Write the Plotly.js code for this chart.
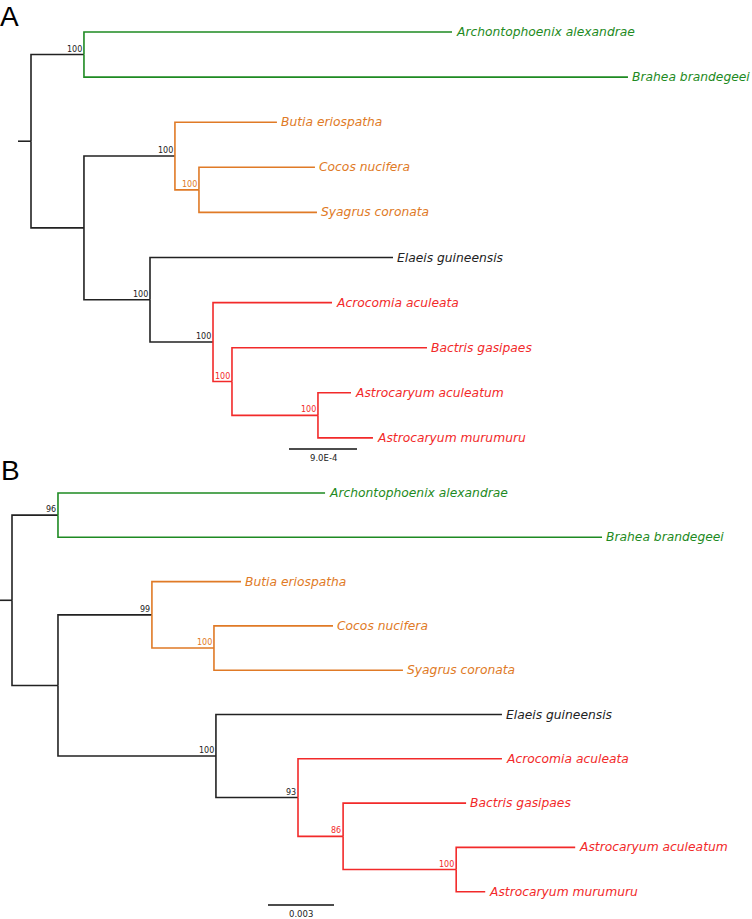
<!DOCTYPE html>
<html>
<head>
<meta charset="utf-8">
<script src="https://cdn.plot.ly/plotly-3.0.1.min.js"></script>
<style>html,body{margin:0;padding:0;background:#fff;}#chart{width:752px;height:919px;}</style>
</head>
<body>
<div id="chart"></div>
<script>
// ---------------- DATA ----------------
// Tree topology (shared by both panels), nodes in depth-first order
const nodeParent = [-1, 0, 1, 1, 0, 4, 5, 5, 7, 7, 4, 10, 10, 12, 12, 14, 14, 16, 16];
const nodeTaxon = [null, null, "Archontophoenix alexandrae", "Brahea brandegeei", null, null,
  "Butia eriospatha", null, "Cocos nucifera", "Syagrus coronata", null, "Elaeis guineensis", null,
  "Acrocomia aculeata", null, "Bactris gasipaes", null, "Astrocaryum aculeatum", "Astrocaryum murumuru"];
// Clade each branch belongs to
const nodeClade = ["other", "other", "outgroup", "outgroup", "other", "other",
  "attaleinae", "attaleinae", "attaleinae", "attaleinae", "other", "other", "other",
  "bactridinae", "bactridinae", "bactridinae", "bactridinae", "bactridinae", "bactridinae"];

// Panel A: branch lengths (substitutions/site) and support values
const branchLengthA = [0.000172, 0.000701, 0.004871, 0.007200, 0.000701, 0.001204, 0.001350,
  0.000318, 0.001535, 0.001562, 0.000874, 0.003216, 0.000834, 0.001575, 0.000251, 0.002581,
  0.001138, 0.000437, 0.000728];
const supportA = [null, 100, null, null, null, 100, null, 100, null, null, 100, null, 100, null, 100, null, 100, null, null];
const scaleA = {length: 9.0e-4, label: "9.0E-4"};

// Panel B: branch lengths and support values
const branchLengthB = [0.000545, 0.00209, 0.01214, 0.02473, 0.00209, 0.00427, 0.00405,
  0.00282, 0.00541, 0.00859, 0.00718, 0.01300, 0.00373, 0.00927, 0.00205, 0.00559,
  0.00514, 0.00541, 0.00132];
const supportB = [null, 96, null, null, null, 99, null, 100, null, null, 100, null, 93, null, 86, null, 100, null, null];
const scaleB = {length: 0.003, label: "0.003"};

const panelLetters = ["A", "B"];

// ---------------- STYLE ----------------
const cladeColor = {other: "#222222", outgroup: "#1e8a22", attaleinae: "#e07a26", bactridinae: "#f22a2a"};
const W = 752, H = 919;
const LINE_W = 1.6;
const labelFont = "DejaVu Sans, Verdana, sans-serif";

// ---------------- LAYOUT OF TREE ----------------
function layoutTree(bl) {
  const n = nodeParent.length;
  const x = new Array(n).fill(0), y = new Array(n).fill(0);
  const children = nodeParent.map(() => []);
  nodeParent.forEach((p, i) => { if (p >= 0) children[p].push(i); });
  let leafIdx = 0;
  function walk(i) {
    x[i] = nodeParent[i] < 0 ? 0 : x[nodeParent[i]] + bl[i];
    if (children[i].length === 0) { y[i] = leafIdx++; return; }
    children[i].forEach(walk);
    const c = children[i];
    y[i] = (y[c[0]] + y[c[c.length - 1]]) / 2;
  }
  walk(0);
  return {x, y};
}

const traces = [];
const annotations = [];
const shapes = [];

function buildPanel(bl, support, scale, xa, ya, scaleBarStart, scaleBarY) {
  const t = layoutTree(bl);
  const groups = {};
  // root stub
  const rootIdx = 0;
  groups[nodeClade[rootIdx]] = {x: [-bl[rootIdx], 0, null], y: [t.y[rootIdx], t.y[rootIdx], null]};
  for (let i = 0; i < nodeParent.length; i++) {
    const p = nodeParent[i];
    if (p < 0) continue;
    const g = groups[nodeClade[i]] || (groups[nodeClade[i]] = {x: [], y: []});
    g.x.push(t.x[p], t.x[p], t.x[i], null);
    g.y.push(t.y[p], t.y[i], t.y[i], null);
  }
  Object.keys(groups).forEach(k => {
    traces.push({type: "scatter", mode: "lines", x: groups[k].x, y: groups[k].y,
      xaxis: xa, yaxis: ya, hoverinfo: "skip",
      line: {color: cladeColor[k], width: LINE_W, shape: "linear"}});
  });
  for (let i = 0; i < nodeParent.length; i++) {
    if (nodeTaxon[i]) {
      annotations.push({xref: xa, yref: ya, x: t.x[i], y: t.y[i], text: "<i>" + nodeTaxon[i] + "</i>",
        showarrow: false, xanchor: "left", yanchor: "middle", xshift: 2, yshift: 0,
        font: {family: labelFont, size: 12.3, color: cladeColor[nodeClade[i]]}});
    }
    if (support[i] !== null) {
      annotations.push({xref: xa, yref: ya, x: t.x[i], y: t.y[i], text: String(support[i]),
        showarrow: false, xanchor: "right", yanchor: "bottom", xshift: 0, yshift: -1,
        font: {family: labelFont, size: 8, color: cladeColor[nodeClade[i]]}});
    }
  }
  // scale bar
  shapes.push({type: "line", xref: xa, yref: ya, x0: scaleBarStart, x1: scaleBarStart + scale.length,
    y0: scaleBarY, y1: scaleBarY, line: {color: "#111", width: LINE_W}});
  annotations.push({xref: xa, yref: ya, x: scaleBarStart + scale.length / 2, y: scaleBarY,
    text: scale.label, showarrow: false, xanchor: "center", yanchor: "top", yshift: -2,
    font: {family: labelFont, size: 8.5, color: "#222"}});
}

// pixel scales for each panel
const pxA = scaleA.length / 68, rootPxA = 31, leaf0A = 32, stepA = 45.1;
const pxB = scaleB.length / 66, rootPxB = 12, leaf0B = 493, stepB = 44.3;

buildPanel(branchLengthA, supportA, scaleA, "x", "y", (289 - rootPxA) * pxA, (449 - leaf0A) / stepA);
buildPanel(branchLengthB, supportB, scaleB, "x2", "y2", (268 - rootPxB) * pxB, (905 - leaf0B) / stepB);

annotations.push({xref: "paper", yref: "paper", x: 0, y: 1, text: panelLetters[0], showarrow: false,
  xanchor: "left", yanchor: "top", xshift: -2, yshift: 1,
  font: {family: "Liberation Sans, Arial, sans-serif", size: 28, color: "#000"}});
annotations.push({xref: "paper", yref: "paper", x: 0, y: 1 - 456 / H, text: panelLetters[1], showarrow: false,
  xanchor: "left", yanchor: "top", xshift: -1, yshift: 3,
  font: {family: "Liberation Sans, Arial, sans-serif", size: 28, color: "#000"}});

const ax = {visible: false, showgrid: false, zeroline: false, fixedrange: true};
const layout = {
  width: W, height: H,
  margin: {l: 0, r: 0, t: 0, b: 0, pad: 0},
  paper_bgcolor: "#ffffff", plot_bgcolor: "rgba(0,0,0,0)",
  showlegend: false,
  xaxis: Object.assign({}, ax, {domain: [0, 1], anchor: "y", range: [-rootPxA * pxA, (W - rootPxA) * pxA]}),
  yaxis: Object.assign({}, ax, {domain: [0, 1], anchor: "x", range: [(H - leaf0A) / stepA, -leaf0A / stepA]}),
  xaxis2: Object.assign({}, ax, {domain: [0, 1], anchor: "y2", range: [-rootPxB * pxB, (W - rootPxB) * pxB]}),
  yaxis2: Object.assign({}, ax, {domain: [0, 1], anchor: "x2", range: [(H - leaf0B) / stepB, -leaf0B / stepB]}),
  annotations: annotations,
  shapes: shapes
};

Plotly.newPlot("chart", traces, layout, {staticPlot: true, displayModeBar: false});
</script>
</body>
</html>
